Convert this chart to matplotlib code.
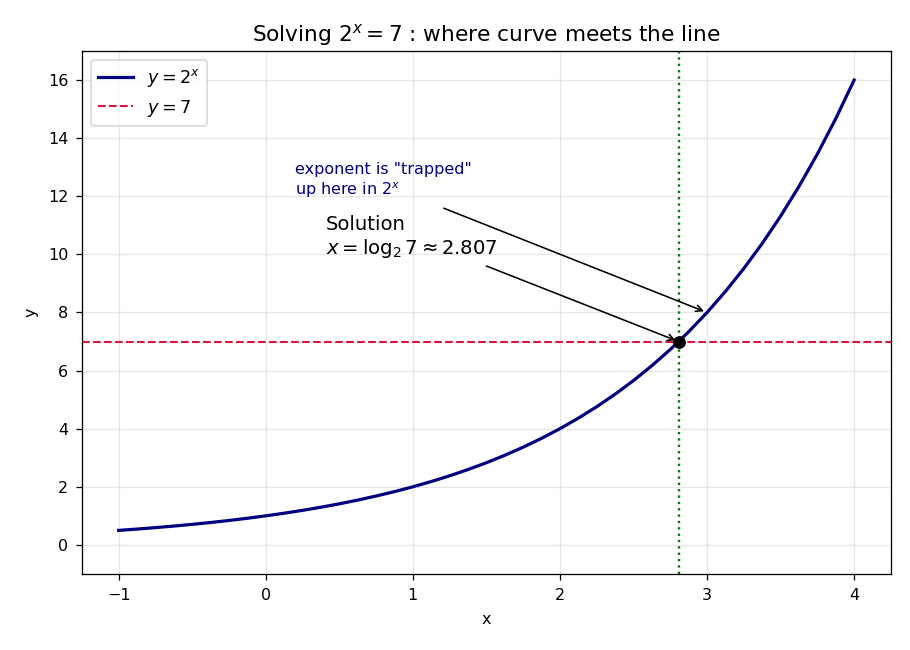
import matplotlib
matplotlib.use('Agg')
import matplotlib.pyplot as plt

# curve samples (y = 2^x)
curve_x = [-1.0, -0.875, -0.75, -0.625, -0.5, -0.375, -0.25, -0.125,
           0.0, 0.125, 0.25, 0.375, 0.5, 0.625, 0.75, 0.875,
           1.0, 1.125, 1.25, 1.375, 1.5, 1.625, 1.75, 1.875,
           2.0, 2.125, 2.25, 2.375, 2.5, 2.625, 2.75, 2.875,
           3.0, 3.125, 3.25, 3.375, 3.5, 3.625, 3.75, 3.875, 4.0]
curve_y = [0.5, 0.545, 0.595, 0.648, 0.707, 0.771, 0.841, 0.917,
           1.0, 1.091, 1.189, 1.297, 1.414, 1.542, 1.682, 1.834,
           2.0, 2.181, 2.378, 2.594, 2.828, 3.084, 3.364, 3.668,
           4.0, 4.362, 4.757, 5.187, 5.657, 6.169, 6.727, 7.336,
           8.0, 8.724, 9.514, 10.375, 11.314, 12.338, 13.454, 14.672, 16.0]

target_y = 7
solution_x = 2.807
trapped_point = (3.0, 8.0)

fig, ax = plt.subplots(figsize=(910 / 115, 650 / 115), dpi=115)

ax.plot(curve_x, curve_y, color='navy', lw=2, label='$y = 2^x$')
ax.axhline(target_y, color='crimson', ls='--', lw=1.3, label='$y = 7$')
ax.axvline(solution_x, color='green', ls=':', lw=1.5)
ax.plot([solution_x], [target_y], 'o', color='black', ms=7, zorder=5)

# annotations
ax.text(0.41, 10.0, 'Solution\n$x = \\log_2 7 \\approx 2.807$', fontsize=12.3)
ax.annotate('', xy=(solution_x, target_y), xytext=(1.48, 9.64),
            arrowprops=dict(arrowstyle='->', color='black', lw=1))

ax.text(0.2, 12.05, 'exponent is "trapped"\nup here in $2^x$',
        fontsize=10, color='navy')
ax.annotate('', xy=trapped_point, xytext=(1.19, 11.63),
            arrowprops=dict(arrowstyle='->', color='black', lw=1))

ax.set_xlim(-1.25, 4.25)
ax.set_ylim(-1, 17)
ax.tick_params(length=4, pad=4.5)
ax.set_xlabel('x', labelpad=6)
ax.set_ylabel('y', labelpad=6)
ax.set_title('Solving $2^x = 7$ : where curve meets the line', fontsize=13.5)
ax.grid(True, alpha=0.3)
ax.legend(loc='upper left', fontsize=11)

plt.subplots_adjust(left=0.09, right=0.979, top=0.9215, bottom=0.117)
plt.savefig('out.png')
